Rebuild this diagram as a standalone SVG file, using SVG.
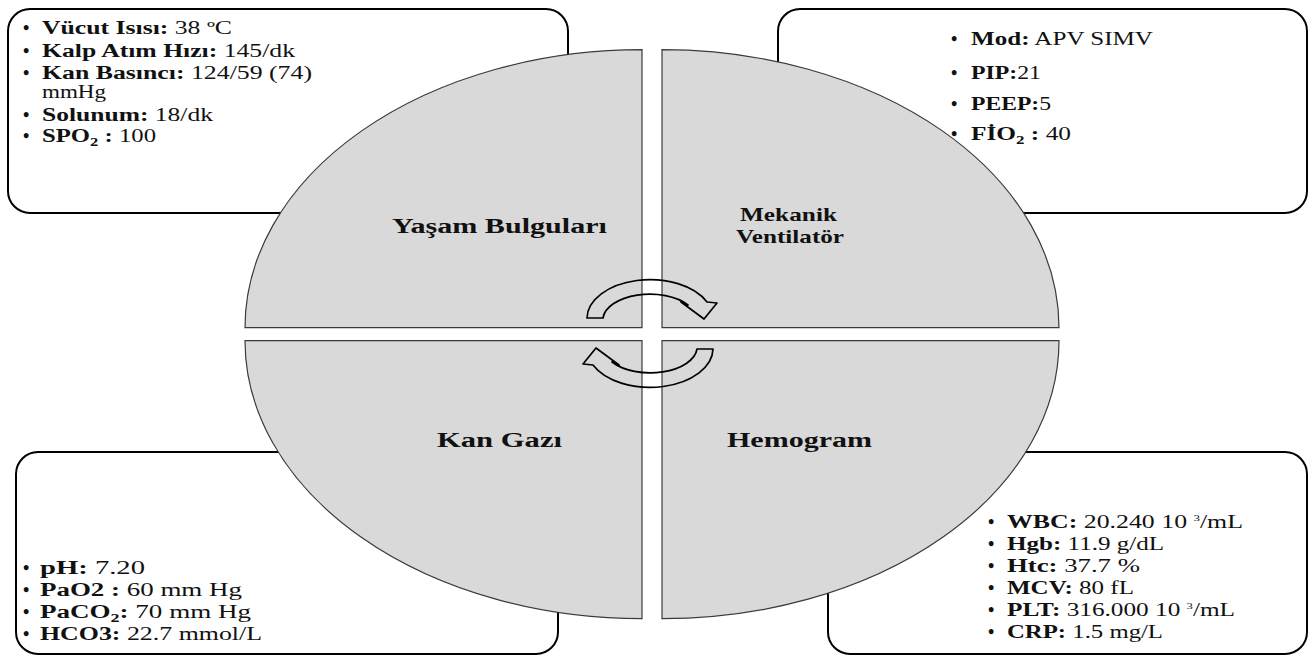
<svg xmlns="http://www.w3.org/2000/svg" width="1309" height="657" viewBox="0 0 1309 657">
<style>
.box{fill:#fff;stroke:#000;stroke-width:2}
.q{fill:#d9d9d9;stroke:#3a3a3a;stroke-width:1.2}
.arr{fill:none;stroke:#000;stroke-width:1.7;stroke-linejoin:round}
.t{font-family:"Liberation Serif","Times New Roman",serif;font-size:18px;fill:#111}
.bu{font-family:"Liberation Serif","Times New Roman",serif;font-size:18px;font-weight:bold;fill:#111}
.b{font-weight:bold}
.lbl{font-family:"Liberation Serif","Times New Roman",serif;font-weight:bold;font-size:20px;fill:#111}
.lbl2{font-family:"Liberation Serif","Times New Roman",serif;font-weight:bold;font-size:19px;fill:#111}
</style>
<rect width="1309" height="657" fill="#fff"/>

<g id="box-yasam">
<rect class="box" x="8" y="9" width="560" height="204" rx="22"/>
<text class="bu" x="23" y="34">•</text>
<text class="t" x="42" y="34" textLength="190" lengthAdjust="spacingAndGlyphs"><tspan class="b">Vücut Isısı:</tspan> 38 ºC</text>
<text class="bu" x="23" y="57">•</text>
<text class="t" x="42" y="57" textLength="253" lengthAdjust="spacingAndGlyphs"><tspan class="b">Kalp Atım Hızı:</tspan> 145/dk</text>
<text class="bu" x="23" y="79">•</text>
<text class="t" x="42" y="79" textLength="270" lengthAdjust="spacingAndGlyphs"><tspan class="b">Kan Basıncı:</tspan> 124/59 (74)</text>
<text class="t" x="42" y="98" textLength="64" lengthAdjust="spacingAndGlyphs">mmHg</text>
<text class="bu" x="23" y="121">•</text>
<text class="t" x="42" y="121" textLength="171" lengthAdjust="spacingAndGlyphs"><tspan class="b">Solunum:</tspan>  18/dk</text>
<text class="bu" x="23" y="142">•</text>
<text class="t" x="42" y="142" textLength="114" lengthAdjust="spacingAndGlyphs"><tspan class="b">SPO</tspan><tspan class="b" font-size="12" dy="4">2</tspan><tspan class="b" dy="-4"> :</tspan> 100</text>
</g>

<g id="box-ventilator">
<rect class="box" x="778" y="9" width="529" height="204" rx="22"/>
<text class="bu" x="951" y="45">•</text>
<text class="t" x="971" y="45" textLength="182" lengthAdjust="spacingAndGlyphs"><tspan class="b">Mod:</tspan> APV SIMV</text>
<text class="bu" x="951" y="79">•</text>
<text class="t" x="971" y="79" textLength="70" lengthAdjust="spacingAndGlyphs"><tspan class="b">PIP:</tspan>21</text>
<text class="bu" x="951" y="110">•</text>
<text class="t" x="971" y="110" textLength="80" lengthAdjust="spacingAndGlyphs"><tspan class="b">PEEP:</tspan>5</text>
<text class="bu" x="951" y="140">•</text>
<text class="t" x="971" y="140" textLength="100" lengthAdjust="spacingAndGlyphs"><tspan class="b">FİO</tspan><tspan class="b" font-size="12" dy="4">2</tspan><tspan class="b" dy="-4"> :</tspan> 40</text>
</g>

<g id="box-kangazi">
<rect class="box" x="16" y="452" width="542" height="202" rx="22"/>
<text class="bu" x="23" y="574">•</text>
<text class="t" x="40" y="574" textLength="105" lengthAdjust="spacingAndGlyphs"><tspan class="b">pH:</tspan> 7.20</text>
<text class="bu" x="23" y="596">•</text>
<text class="t" x="40" y="596" textLength="202" lengthAdjust="spacingAndGlyphs"><tspan class="b">PaO2 :</tspan> 60 mm Hg</text>
<text class="bu" x="23" y="618">•</text>
<text class="t" x="40" y="618" textLength="211" lengthAdjust="spacingAndGlyphs"><tspan class="b">PaCO</tspan><tspan class="b" font-size="12" dy="4">2</tspan><tspan class="b" dy="-4">:</tspan> 70 mm Hg</text>
<text class="bu" x="23" y="640">•</text>
<text class="t" x="40" y="640" textLength="222" lengthAdjust="spacingAndGlyphs"><tspan class="b">HCO3:</tspan> 22.7 mmol/L</text>
</g>

<g id="box-hemogram">
<rect class="box" x="828" y="452" width="479" height="202" rx="22"/>
<text class="bu" x="988" y="528">•</text>
<text class="t" x="1007" y="528" textLength="236" lengthAdjust="spacingAndGlyphs"><tspan class="b">WBC:</tspan> 20.240  10 <tspan font-size="9" dy="-7">3</tspan><tspan dy="7">/mL</tspan></text>
<text class="bu" x="988" y="550">•</text>
<text class="t" x="1007" y="550" textLength="157" lengthAdjust="spacingAndGlyphs"><tspan class="b">Hgb:</tspan> 11.9 g/dL</text>
<text class="bu" x="988" y="572">•</text>
<text class="t" x="1007" y="572" textLength="133" lengthAdjust="spacingAndGlyphs"><tspan class="b">Htc:</tspan> 37.7  %</text>
<text class="bu" x="988" y="594">•</text>
<text class="t" x="1007" y="594" textLength="127" lengthAdjust="spacingAndGlyphs"><tspan class="b">MCV:</tspan> 80 fL</text>
<text class="bu" x="988" y="616">•</text>
<text class="t" x="1007" y="616" textLength="228" lengthAdjust="spacingAndGlyphs"><tspan class="b">PLT:</tspan> 316.000 10 <tspan font-size="9" dy="-7">3</tspan><tspan dy="7">/mL</tspan></text>
<text class="bu" x="988" y="638">•</text>
<text class="t" x="1007" y="638" textLength="156" lengthAdjust="spacingAndGlyphs"><tspan class="b">CRP:</tspan> 1.5 mg/L</text>
</g>

<g id="q-yasam">
<path class="q" d="M642,327.7 L245,327.7 A397,278 0 0 1 642,49.7 Z"/>
<text class="lbl" x="392" y="233" textLength="215" lengthAdjust="spacingAndGlyphs">Yaşam Bulguları</text>
</g>
<g id="q-ventilator">
<path class="q" d="M662,327.7 L1059,327.7 A397,278 0 0 0 662,49.7 Z"/>
<text class="lbl2" x="740" y="221" textLength="97" lengthAdjust="spacingAndGlyphs">Mekanik</text>
<text class="lbl2" x="736" y="243" textLength="108" lengthAdjust="spacingAndGlyphs">Ventilatör</text>
</g>
<g id="q-kangazi">
<path class="q" d="M642,340.7 L245,340.7 A397,278 0 0 0 642,618.7 Z"/>
<text class="lbl" x="437" y="447" textLength="125" lengthAdjust="spacingAndGlyphs">Kan Gazı</text>
</g>
<g id="q-hemogram">
<path class="q" d="M662,340.7 L1059,340.7 A397,278 0 0 1 662,618.7 Z"/>
<text class="lbl" x="727" y="447" textLength="145" lengthAdjust="spacingAndGlyphs">Hemogram</text>
</g>

<g id="connectors">
<path id="arrow-top" class="arr" d="M587,318 A63,39 0 0 1 707,302 L717,303 L704,319 L681,302 L688,305 A47,26 0 0 0 603,318 Z"/>
<path id="arrow-bottom" class="arr" d="M587,318 A63,39 0 0 1 707,302 L717,303 L704,319 L681,302 L688,305 A47,26 0 0 0 603,318 Z" transform="rotate(180 650 333.5)"/>
</g>
</svg>
